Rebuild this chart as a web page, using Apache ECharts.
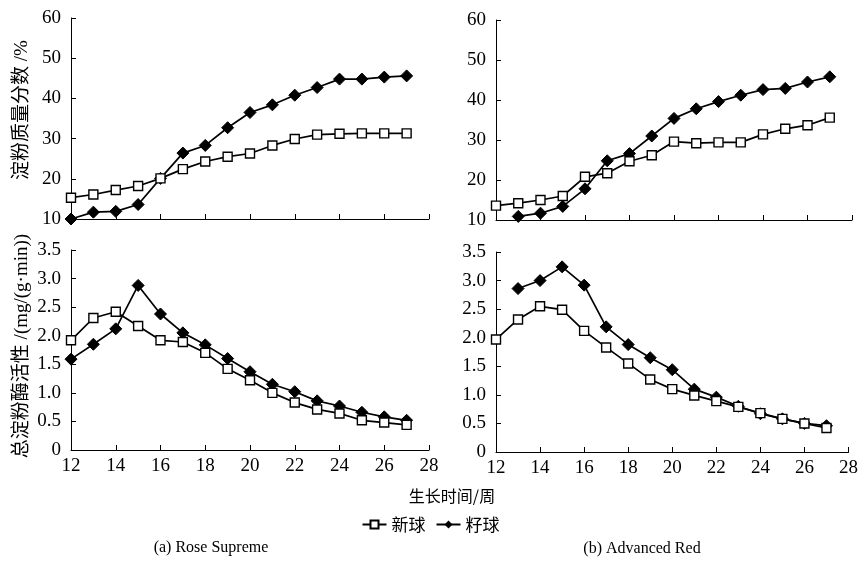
<!DOCTYPE html>
<html>
<head>
<meta charset="utf-8">
<script src="https://cdn.jsdelivr.net/npm/echarts@6/dist/echarts.min.js"></script>
<style>
  html, body { margin: 0; padding: 0; background: #fff; }
  #chart { width: 861px; height: 562px; }
</style>
</head>
<body>
<div id="chart"></div>
<script>
// 生长时间/周
const weeks = [12, 13, 14, 15, 16, 17, 18, 19, 20, 21, 22, 23, 24, 25, 26, 27]

// (a) Rose Supreme
const roseStarchNew = [15.3, 16.1, 17.2, 18.2, 20.1, 22.4, 24.3, 25.5, 26.3, 28.3, 29.9, 31.0, 31.2, 31.3, 31.3, 31.3]
const roseStarchSeed = [10.0, 11.7, 11.9, 13.6, 20.1, 26.4, 28.3, 32.7, 36.5, 38.4, 40.8, 42.7, 44.8, 44.8, 45.3, 45.6]
const roseAmyNew = [1.92, 2.31, 2.42, 2.17, 1.92, 1.89, 1.70, 1.42, 1.22, 1.00, 0.83, 0.71, 0.64, 0.52, 0.48, 0.44]
const roseAmySeed = [1.59, 1.85, 2.12, 2.88, 2.38, 2.05, 1.84, 1.60, 1.37, 1.15, 1.02, 0.86, 0.77, 0.66, 0.58, 0.52]

// (b) Advanced Red（籽球从第13周开始）
const redStarchNew = [13.6, 14.2, 15.0, 16.0, 20.8, 21.7, 24.7, 26.2, 29.6, 29.2, 29.4, 29.4, 31.4, 32.8, 33.7, 35.6]
const redStarchSeed = [null, 10.9, 11.7, 13.4, 17.8, 24.8, 26.6, 31.0, 35.4, 37.8, 39.6, 41.2, 42.6, 42.9, 44.5, 45.8]
const redAmyNew = [1.97, 2.32, 2.55, 2.49, 2.12, 1.83, 1.55, 1.27, 1.10, 0.99, 0.89, 0.79, 0.68, 0.58, 0.50, 0.42]
const redAmySeed = [null, 2.86, 3.00, 3.24, 2.92, 2.19, 1.88, 1.65, 1.44, 1.10, 0.96, 0.80, 0.67, 0.58, 0.50, 0.46]

const xTicks = [12, 28, 2]
const starchTicks = [10, 60, 10]
const amyTicks = [0, 3.5, 0.5]

const seriesNames = ['新球', '籽球']
const captions = ['(a) Rose Supreme', '(b) Advanced Red']

const serif = '"Liberation Serif", "Noto Sans CJK SC", serif'
const cjk = '"Noto Sans CJK SC", "Liberation Serif", serif'

const pairs = vals => weeks.map((w, i) => [w, vals[i]]).filter(p => p[1] != null)

const grids = [
   { left: 71, top: 18, width: 358, height: 201 },
   { left: 496, top: 20, width: 356, height: 200 },
   { left: 71, top: 250, width: 358, height: 200 },
   { left: 496, top: 252, width: 356, height: 200 }
]

const axisBase = {
   axisLine: { lineStyle: { color: '#000', width: 1 } },
   axisTick: { inside: true, length: 5, lineStyle: { color: '#000' } },
   splitLine: { show: false },
   axisLabel: { color: '#000', fontFamily: serif, fontSize: 19 }
}

const xAxes = grids.map((g, i) => ({
   ...axisBase,
   type: 'value',
   gridIndex: i,
   min: xTicks[0], max: xTicks[1], interval: xTicks[2],
   axisLabel: { ...axisBase.axisLabel, show: i >= 2, margin: 7 }
}))

const yAxes = grids.map((g, i) => {
   const t = i < 2 ? starchTicks : amyTicks
   return {
      ...axisBase,
      type: 'value',
      gridIndex: i,
      min: t[0], max: t[1], interval: t[2],
      axisLabel: {
         ...axisBase.axisLabel,
         margin: 10,
         formatter: v => (i < 2 || v === 0) ? String(v) : v.toFixed(1)
      }
   }
})

const lineSeries = (name, vals, idx) => {
   const isNew = name === seriesNames[0]
   return {
      name,
      type: 'line',
      xAxisIndex: idx,
      yAxisIndex: idx,
      data: pairs(vals),
      symbol: isNew ? 'rect' : 'diamond',
      symbolSize: isNew ? 9 : 12,
      showAllSymbol: true,
      lineStyle: { color: '#000', width: 1.7 },
      itemStyle: isNew
         ? { color: '#fff', borderColor: '#000', borderWidth: 1.4 }
         : { color: '#000', borderColor: '#000' },
      z: isNew ? 3 : 2
   }
}

const chart = echarts.init(document.getElementById('chart'))

const option = {
   animation: false,
   backgroundColor: '#fff',
   grid: grids,
   xAxis: xAxes,
   yAxis: yAxes,
   legend: {
      data: seriesNames,
      left: 'center',
      top: 511,
      itemWidth: 24,
      itemHeight: 10,
      itemGap: 10,
      textStyle: { color: '#000', fontFamily: cjk, fontSize: 17 }
   },
   graphic: [
      {
         type: 'text', x: 22, y: 110, rotation: Math.PI / 2,
         style: { text: '淀粉质量分数 /%', font: '19px ' + serif, fill: '#000', align: 'center', verticalAlign: 'middle' }
      },
      {
         type: 'text', x: 22, y: 346, rotation: Math.PI / 2,
         style: { text: '总淀粉酶活性 /(mg/(g·min))', font: '19px ' + serif, fill: '#000', align: 'center', verticalAlign: 'middle' }
      },
      {
         type: 'text', x: 452, y: 496,
         style: { text: '生长时间/周', font: '16px ' + cjk, fill: '#000', align: 'center', verticalAlign: 'middle' }
      },
      {
         type: 'text', x: 211, y: 548,
         style: { text: captions[0], font: '16px ' + serif, fill: '#000', align: 'center', verticalAlign: 'middle' }
      },
      {
         type: 'text', x: 642, y: 549,
         style: { text: captions[1], font: '16px ' + serif, fill: '#000', align: 'center', verticalAlign: 'middle' }
      }
   ],
   series: [
      lineSeries('新球', roseStarchNew, 0),
      lineSeries('籽球', roseStarchSeed, 0),
      lineSeries('新球', redStarchNew, 1),
      lineSeries('籽球', redStarchSeed, 1),
      lineSeries('新球', roseAmyNew, 2),
      lineSeries('籽球', roseAmySeed, 2),
      lineSeries('新球', redAmyNew, 3),
      lineSeries('籽球', redAmySeed, 3)
   ]
}

chart.setOption(option)
</script>
</body>
</html>
